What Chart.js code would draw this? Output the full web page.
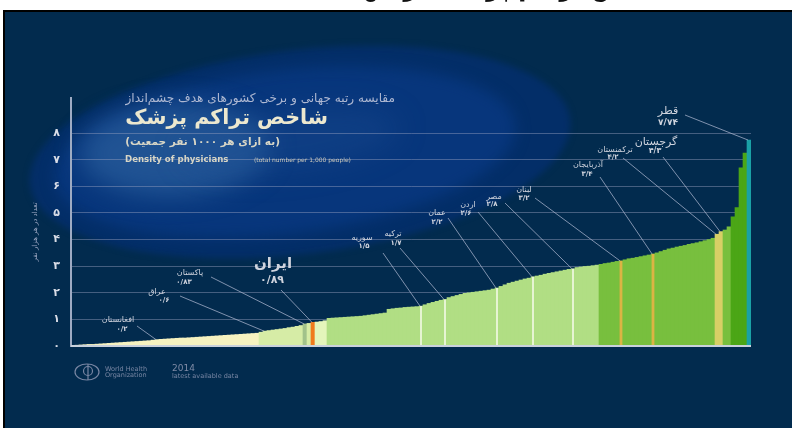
<!DOCTYPE html>
<html><head><meta charset="utf-8">
<script src="https://cdn.jsdelivr.net/npm/chart.js@4.4.1/dist/chart.umd.min.js"></script>
<style>html,body{margin:0;padding:0;background:#fff;overflow:hidden}canvas{display:block}</style>
</head><body>
<canvas id="c" width="792" height="428"></canvas>
<script>
// ---------------- DATA ----------------
// physician density (per 1000 people), countries sorted ascending
const densityValues = [
  0.02,0.03,0.04,0.05,0.06,0.06,0.07,0.08,0.09,0.10,
  0.11,0.12,0.13,0.14,0.15,0.16,0.17,0.18,0.19,0.20,
  0.22,0.24,0.25,0.26,0.27,0.28,0.29,0.30,0.30,0.31,
  0.32,0.33,0.34,0.35,0.36,0.37,0.38,0.39,0.40,0.41,
  0.42,0.43,0.44,0.45,0.46,0.47,0.48,
  0.52,0.56,0.58,0.60,0.62,0.64,0.66,0.69,0.71,0.74,0.77,
  0.83,0.85,0.89,0.90,0.92,0.95,
  1.04,1.05,1.06,1.07,1.08,1.09,1.10,1.11,1.12,1.14,1.16,1.18,1.20,1.22,1.24,
  1.38,1.40,1.42,1.43,1.45,1.46,1.47,1.48,1.50,
  1.55,1.60,1.64,1.68,1.72,1.75,
  1.82,1.86,1.90,1.94,1.98,2.00,2.02,2.04,2.06,2.08,2.10,2.14,2.18,
  2.24,2.30,2.36,2.40,2.44,2.48,2.52,2.55,2.60,
  2.63,2.66,2.70,2.73,2.76,2.79,2.82,2.85,2.88,2.90,
  2.95,2.97,2.99,3.00,3.02,3.04,
  3.07,3.10,3.12,3.15,3.18,3.20,
  3.24,3.28,3.30,3.33,3.36,3.39,3.42,3.46,
  3.50,3.55,3.60,3.65,3.68,3.72,3.75,3.78,3.82,3.85,3.88,3.92,3.96,4.00,4.05,
  4.20,4.30,4.36,4.48,
  4.85,5.20,6.70,7.25,7.74
];
const rankCategories = densityValues.map((_, i) => String(i + 1));
const yTickValues = [0,1,2,3,4,5,6,7,8];

const highlightNames  = ['افغانستان','عراق','پاکستان','ایران','سوریه','ترکیه','عمان','اردن','مصر','لبنان','آذربایجان','ترکمنستان','گرجستان','قطر'];
const highlightValues = ['۰/۲','۰/۶','۰/۸۳','۰/۸۹','۱/۵','۱/۷','۲/۲','۲/۶','۲/۸','۳/۲','۳/۴','۴/۲','۴/۳','۷/۷۴'];
const highlightRank   = [21, 48, 58, 60, 87, 93, 106, 115, 125, 137, 145, 161, 162, 169];

// ---------------- STYLE / LAYOUT ----------------
const whiteLineRanks  = [87, 93, 106, 115, 125];
const yellowLineRanks = [137, 145];
function barColor(i){
  if (i === 60) return '#f07a1c';
  if (i === 58) return '#a2c28a';
  if (i === 161 || i === 162) return '#d7cf66';
  if (i < 47) return '#f6f2c0';
  if (i < 61) return '#d6eca6';
  if (i < 64) return '#e4f5bb';
  if (i < 132) return '#b1de84';
  if (i < 165) return '#78bf3e';
  if (i < 169) return '#4ba616';
  return '#1aa1a6';
}
// [nameX, nameY, valueX, valueY, lineX, lineY, nameSize, nameBold, valueSize]
const labelLayout = [
  [118,320,122,329,137,326, 8,false,7],
  [157,292,164,300,180,296, 8,false,7],
  [190,273,184,282,211,277, 8,false,7],
  [273,264,272,280,281,290,15,true,11],
  [362,238,364,246,383,253, 8,false,7],
  [393,234,396,243,400,248, 8,false,7],
  [437,213,437,222,448,218, 8,false,7],
  [468,205,466,213,478,212, 8,false,7],
  [494,197,492,204,505,203, 8,false,7],
  [524,190,524,198,535,198, 8,false,7],
  [588,165,587,174,600,177, 8,false,7],
  [615,150,613,157,623,158, 8,false,7],
  [656,142,655,151,663,157,11,false,8],
  [668,111,668,123,685,115,11,false,9]
];
const FA = 'DejaVu Sans';
const toFa = v => String(v).replace(/\d/g, d => '۰۱۲۳۴۵۶۷۸۹'[d]);

function blob(ctx, cx, cy, rx, ry, rot, color, blur){
  ctx.save();
  ctx.filter = 'blur(' + blur + 'px)';
  ctx.fillStyle = color;
  ctx.beginPath(); ctx.ellipse(cx, cy, rx, ry, rot, 0, Math.PI*2); ctx.fill();
  ctx.restore();
}

const bgPlugin = {
  id: 'bg',
  beforeDraw(chart){
    const ctx = chart.ctx;
    ctx.save();
    ctx.fillStyle = '#ffffff'; ctx.fillRect(0,0,792,428);
    ctx.fillStyle = '#111'; ctx.font = 'bold 24px "' + FA + '"';
    ctx.direction = 'rtl'; ctx.textAlign = 'right'; ctx.textBaseline = 'alphabetic';
    ctx.fillText('مقایسه شاخص تراکم پزشک در جهان', 772, -4);
    ctx.fillStyle = '#000'; ctx.fillRect(3,10,789,418);
    ctx.fillStyle = '#022b4e'; ctx.fillRect(5,12,787,416);
    ctx.beginPath(); ctx.rect(5,12,787,416); ctx.clip();
    // outer ellipse
    blob(ctx, 300, 152, 272, 102, -0.12, '#032e68', 3);
    // middle layer
    blob(ctx, 285, 152, 232, 82, -0.12, '#07367c', 7);
    // inner glow
    blob(ctx, 175, 150, 95, 46, -0.05, 'rgba(36,88,152,0.85)', 12);
    blob(ctx, 290, 140, 110, 30, -0.12, 'rgba(30,78,145,0.35)', 14);
    ctx.restore();
  }
};

function text(ctx, s, x, y, size, bold, color, align){
  ctx.font = (bold ? 'bold ' : '') + size + 'px "' + FA + '"';
  ctx.fillStyle = color; ctx.textAlign = align || 'center'; ctx.textBaseline = 'middle';
  ctx.fillText(s, x, y);
}
function fitText(ctx, s, xRight, y, width, bold, color){
  ctx.font = (bold ? 'bold ' : '') + '20px "' + FA + '"';
  const size = 20 * width / ctx.measureText(s).width;
  text(ctx, s, xRight, y, size, bold, color, 'right');
}

const annoPlugin = {
  id: 'anno',
  afterDraw(chart){
    const ctx = chart.ctx, xs = chart.scales.x, ys = chart.scales.y, ca = chart.chartArea;
    ctx.save();
    // baseline
    ctx.strokeStyle = '#c9d1dc'; ctx.lineWidth = 2;
    ctx.beginPath(); ctx.moveTo(ca.left, ca.bottom); ctx.lineTo(ca.right, ca.bottom); ctx.stroke();
    // titles
    ctx.direction = 'rtl';
    fitText(ctx, 'مقایسه رتبه جهانی و برخی کشورهای هدف چشم‌انداز', 395, 99, 270, false, '#aeb8d2');
    fitText(ctx, 'شاخص تراکم پزشک', 328, 119, 203, true, '#ece8cf');
    fitText(ctx, '(به ازای هر ۱۰۰۰ نفر جمعیت)', 280, 142, 155, true, '#d8d6c6');
    ctx.direction = 'ltr';
    text(ctx, 'Density of physicians', 125, 160, 8.6, true, '#d8d6c6', 'left');
    text(ctx, '(total number per 1,000 people)', 254, 160, 6, false, '#c9c8bc', 'left');
    // y axis title
    ctx.save(); ctx.translate(35,232); ctx.rotate(-Math.PI/2); ctx.direction = 'rtl';
    text(ctx, 'تعداد در هر هزار نفر', 0, 0, 7, false, '#9aa5c0');
    ctx.restore();
    // annotations
    ctx.strokeStyle = 'rgba(170,180,205,0.75)'; ctx.lineWidth = 1;
    highlightRank.forEach((r, k) => {
      const L = labelLayout[k];
      const xe = xs.getPixelForValue(r), ye = ys.getPixelForValue(densityValues[r]);
      ctx.beginPath(); ctx.moveTo(L[4], L[5]); ctx.lineTo(xe - 1, ye); ctx.stroke();
      ctx.direction = 'rtl';
      text(ctx, highlightNames[k], L[0], L[1], L[6], L[7], '#d0d4de');
      ctx.direction = 'ltr';
      text(ctx, highlightValues[k], L[2], L[3], L[8], true, '#d0d4de');
    });
    // WHO footer
    ctx.strokeStyle = '#7886a3'; ctx.lineWidth = 1.2;
    ctx.beginPath(); ctx.ellipse(87,372,12,8,0,0,Math.PI*2); ctx.stroke();
    ctx.beginPath(); ctx.arc(88,371,4.5,0,Math.PI*2); ctx.stroke();
    ctx.beginPath(); ctx.moveTo(88,364); ctx.lineTo(88,380); ctx.stroke();
    text(ctx, 'World Health', 105, 369, 6.5, false, '#7886a3', 'left');
    text(ctx, 'Organization', 105, 375.5, 6.5, false, '#7886a3', 'left');
    text(ctx, '2014', 172, 368.5, 9, false, '#7f8ba6', 'left');
    text(ctx, 'latest available data', 172, 376, 6.5, false, '#7886a3', 'left');
    ctx.restore();
  }
};

new Chart(document.getElementById('c'), {
  type: 'bar',
  data: {
    labels: rankCategories,
    datasets: [
      { data: densityValues.map((v,i) => whiteLineRanks.includes(i) ? v : null),
        backgroundColor: '#e6f4d2', grouped: false, order: 1,
        barPercentage: 0.5, categoryPercentage: 1, borderWidth: 0 },
      { data: densityValues.map((v,i) => yellowLineRanks.includes(i) ? v : null),
        backgroundColor: '#dcb444', grouped: false, order: 1,
        barPercentage: 0.7, categoryPercentage: 1, borderWidth: 0 },
      { data: densityValues, backgroundColor: densityValues.map((_,i) => barColor(i)),
        grouped: false, order: 10, barPercentage: 1, categoryPercentage: 1, borderWidth: 0 }
    ]
  },
  options: {
    responsive: false, animation: false, devicePixelRatio: 1,
    layout: { padding: { left: 0, top: 98, right: 41, bottom: 82 } },
    plugins: { legend: { display: false }, tooltip: { enabled: false } },
    scales: {
      x: { type: 'category', display: false, offset: true },
      y: {
        min: 0, max: 9.32, z: 1,
        afterBuildTicks(s){ s.ticks = yTickValues.map(v => ({ value: v })); },
        afterFit(s){ s.width = 71; },
        grid: { color: 'rgba(150,160,190,0.45)', lineWidth: 1, drawTicks: false },
        border: { display: true, color: '#9eabc3', width: 2 },
        ticks: { padding: 11, color: '#d9dde7', font: { family: FA, size: 11, weight: 'bold' },
                 callback: v => toFa(v) }
      }
    }
  },
  plugins: [bgPlugin, annoPlugin]
});
</script>
</body></html>
